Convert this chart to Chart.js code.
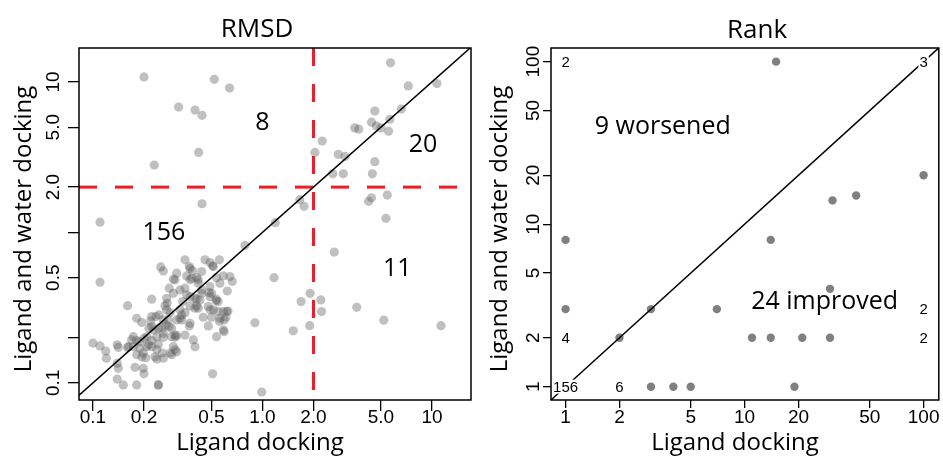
<!DOCTYPE html>
<html>
<head>
<meta charset="utf-8">
<script src="https://cdn.jsdelivr.net/npm/chart.js@4/dist/chart.umd.min.js"></script>
<style>
  html, body { margin: 0; padding: 0; background: #fff; }
  #wrap { position: relative; width: 943px; height: 456px; overflow: hidden; }
  canvas { position: absolute; top: 0; }
  #rmsd { left: 0; }
  #rank { left: 480px; }
</style>
</head>
<body>
<div id="wrap">
  <canvas id="rmsd" width="480" height="456"></canvas>
  <canvas id="rank" width="463" height="456"></canvas>
</div>
<script>
// ===== DATOS: panel RMSD =====
const rmsdXTicks = [0.1, 0.2, 0.5, 1, 2, 5, 10];
const rmsdXLabels = ['0.1', '0.2', '0.5', '1.0', '2.0', '5.0', '10'];
const rmsdYTicks = [0.1, 0.2, 0.5, 1, 2, 5, 10];
const rmsdYLabels = ['0.1', '', '0.5', '', '2.0', '5.0', '10'];
const rmsdXRange = [0.0827, 17.0];
const rmsdYRange = [0.077, 16.8];
const rmsdCutoff = 2;

// RMSD con docking de ligando (x) y con ligando + agua (y)
const rmsdLigand = [
  0.20, 0.52, 0.64, 0.32, 0.40, 0.44, 0.42, 0.23,
  5.7, 7.25, 10.7, 4.6, 6.6, 5.65, 4.4, 4.7, 5.0, 5.55, 3.5, 3.7, 2.25, 2.04, 2.8, 3.07, 4.6, 2.6, 3.0, 4.45,
  5.45, 4.4, 4.23, 5.35, 2.65, 2.21, 2.23, 3.6, 5.2, 11.3, 1.66, 1.76, 1.91, 1.69, 1.90, 1.52,
  0.44, 1.19, 1.17, 0.903, 0.99, 0.508, 0.11, 0.11, 0.788,
  0.349, 0.458, 0.49, 0.557, 0.251, 0.26, 0.37, 0.387, 0.438, 0.513,
  0.312, 0.298, 0.357, 0.418, 0.382, 0.643, 0.663, 0.561, 0.62, 0.282,
  0.326, 0.298, 0.272, 0.485, 0.438, 0.357, 0.409, 0.49, 0.222, 0.532,
  0.548, 0.338, 0.374, 0.40, 0.409, 0.16, 0.266, 0.272, 0.513, 0.548,
  0.615, 0.501, 0.561, 0.609, 0.594, 0.447, 0.479, 0.334, 0.334, 0.312,
  0.374, 0.181, 0.194, 0.222, 0.235, 0.26, 0.278, 0.269, 0.222, 0.229,
  0.243, 0.37, 0.291, 0.26, 0.26, 0.238, 0.312, 0.594, 0.536, 0.173,
  0.181, 0.169, 0.162, 0.189, 0.208, 0.222, 0.222, 0.391, 0.40, 0.349,
  0.305, 0.298, 0.285, 0.312, 0.10, 0.11, 0.119, 0.12, 0.139, 0.141,
  0.16, 0.173, 0.189, 0.181, 0.198, 0.194, 0.208, 0.238, 0.232, 0.26,
  0.238, 0.139, 0.141, 0.177, 0.198, 0.20, 0.139, 0.151, 0.181, 0.243,
  0.243, 0.205, 0.257, 0.274, 0.219, 0.245, 0.214, 0.256, 0.281, 0.20,
  0.213, 0.243, 0.29, 0.40, 0.428, 0.479, 0.326, 0.349, 0.418, 0.49,
  0.588, 0.626, 0.285, 0.326, 0.557, 0.305, 0.588, 0.305, 0.291, 0.508,
  0.374, 0.305, 0.374, 0.409, 0.536, 0.588, 0.418, 0.49, 0.349, 0.438,
  0.501, 0.374, 0.536
];
const rmsdWater = [
  10.8, 10.4, 9.1, 6.8, 6.5, 6.0, 3.4, 2.8,
  13.4, 9.4, 9.75, 6.4, 6.6, 5.65, 5.4, 5.1, 4.95, 4.7, 4.95, 4.85, 4.05, 3.4, 3.3, 3.2, 2.95, 2.45, 2.45, 2.45,
  1.77, 1.7, 1.61, 1.24, 0.74, 0.356, 0.298, 0.318, 0.261, 0.24, 1.65, 1.49, 0.394, 0.347, 0.24, 0.222,
  1.55, 1.16, 0.50, 0.251, 0.087, 0.115, 1.17, 0.466, 0.82,
  0.657, 0.657, 0.63, 0.657, 0.59, 0.555, 0.593, 0.557, 0.549, 0.593,
  0.536, 0.489, 0.514, 0.484, 0.496, 0.509, 0.472, 0.46, 0.408, 0.426,
  0.415, 0.394, 0.365, 0.398, 0.394, 0.384, 0.36, 0.374, 0.36, 0.351,
  0.347, 0.347, 0.325, 0.314, 0.325, 0.326, 0.325, 0.306, 0.306, 0.298,
  0.298, 0.273, 0.269, 0.273, 0.262, 0.273, 0.239, 0.283, 0.262, 0.262,
  0.249, 0.269, 0.252, 0.276, 0.276, 0.262, 0.262, 0.243, 0.237, 0.225,
  0.231, 0.239, 0.231, 0.214, 0.201, 0.203, 0.206, 0.219, 0.203, 0.203,
  0.191, 0.193, 0.174, 0.188, 0.203, 0.174, 0.191, 0.193, 0.174, 0.208,
  0.201, 0.174, 0.158, 0.161, 0.184, 0.176, 0.163, 0.146, 0.179, 0.172,
  0.172, 0.174, 0.17, 0.154, 0.158, 0.149, 0.174, 0.167, 0.149, 0.146,
  0.144, 0.135, 0.125, 0.127, 0.125, 0.115, 0.106, 0.097, 0.097, 0.097,
  0.097, 0.147, 0.158, 0.338, 0.258, 0.283, 0.231, 0.231, 0.237, 0.198,
  0.179, 0.181, 0.203, 0.365, 0.356, 0.322, 0.306, 0.293, 0.314, 0.306,
  0.298, 0.30, 0.293, 0.269, 0.257, 0.208, 0.225, 0.166, 0.154, 0.60,
  0.575, 0.484, 0.484, 0.50, 0.50, 0.514, 0.46, 0.437, 0.426, 0.415,
  0.394, 0.374, 0.36
];
const rmsdNoteText = ['8', '20', '156', '11'];
const rmsdNoteX = [1.0, 8.85, 0.262, 6.24];
const rmsdNoteY = [5.34, 3.81, 1.0, 0.569];

// ===== DATOS: panel Rank =====
const rankTicks = [1, 2, 5, 10, 20, 50, 100];
const rankLabels = ['1', '2', '5', '10', '20', '50', '100'];
const rankXRange = [0.829, 121.6];
const rankYRange = [0.828, 121.3];

const rankLigand = [15, 31, 42, 100, 1, 14, 30, 1, 3, 7, 2, 11, 14, 21, 30, 3, 4, 5, 19];
const rankWater = [100, 14, 15, 20, 8, 8, 4, 3, 3, 3, 2, 2, 2, 2, 2, 1, 1, 1, 1];
// puntos repetidos: se muestran como conteo
const countLigand = [1, 2, 1, 100, 100, 1, 100];
const countWater = [1, 1, 2, 3, 2, 100, 100];
const countText = ['156', '6', '4', '2', '2', '2', '3'];
const rankNoteText = ['9 worsened', '24 improved'];
const rankNoteX = [3.49, 28.0];
const rankNoteY = [39.6, 3.34];

const identity = [0.01, 1000];

// ===== HELPERS =====
const TICK_FONT = { family: "'Liberation Sans', Arial, sans-serif", size: 19 };
const TEXT_FONT = '"Open Sans", "Noto Sans", sans-serif';

function ejeLog(range, ticks, labels, o) {
  return {
    type: 'logarithmic',
    min: range[0],
    max: range[1],
    afterBuildTicks: s => { s.ticks = ticks.map(v => ({ value: v })); },
    afterFit: s => {
      if (o.width) s.width = o.width;
      if (o.height) s.height = o.height;
    },
    border: { display: false },
    grid: { drawOnChartArea: false, drawTicks: true, tickLength: o.tick, color: '#000', lineWidth: 1.3 },
    ticks: {
      autoSkip: false,
      callback: v => labels[ticks.indexOf(v)],
      font: TICK_FONT,
      color: '#000',
      padding: o.pad,
      minRotation: o.rot || 0,
      maxRotation: o.rot || 0,
      crossAlign: o.rot ? 'center' : 'near'
    }
  };
}

function puntos(xs, ys) {
  return xs.map((v, i) => ({ x: v, y: ys[i] }));
}

function overlay(cfg) {
  return {
    id: 'overlay',
    afterDatasetsDraw(chart) {
      const { ctx, chartArea: a, scales } = chart;
      ctx.save();
      // conteos con fondo blanco
      ctx.font = '15px "Liberation Sans", Arial, sans-serif';
      ctx.textAlign = 'center';
      ctx.textBaseline = 'middle';
      (cfg.countText || []).forEach((t, i) => {
        const px = scales.x.getPixelForValue(cfg.countX[i]);
        const py = scales.y.getPixelForValue(cfg.countY[i]);
        const w = ctx.measureText(t).width;
        ctx.fillStyle = '#fff';
        ctx.fillRect(px - w / 2 - 1, py - 7, w + 2, 14);
        ctx.fillStyle = '#000';
        ctx.fillText(t, px, py + 1);
      });
      // caja
      ctx.strokeStyle = '#000';
      ctx.lineWidth = 1.5;
      ctx.strokeRect(a.left, a.top, a.right - a.left, a.bottom - a.top);
      // anotaciones
      ctx.font = '25px ' + TEXT_FONT;
      ctx.fillStyle = '#000';
      cfg.noteText.forEach((t, i) => {
        ctx.fillText(t, scales.x.getPixelForValue(cfg.noteX[i]), scales.y.getPixelForValue(cfg.noteY[i]));
      });
      ctx.restore();
    },
    afterDraw(chart) {
      const ctx = chart.ctx;
      ctx.save();
      ctx.fillStyle = '#000';
      ctx.textAlign = 'center';
      ctx.textBaseline = 'alphabetic';
      ctx.font = '26px ' + TEXT_FONT;
      ctx.fillText(cfg.title, cfg.titlePos[0], cfg.titlePos[1]);
      ctx.font = '24px ' + TEXT_FONT;
      ctx.fillText('Ligand docking', cfg.xTitlePos[0], cfg.xTitlePos[1]);
      ctx.translate(cfg.yTitlePos[0], cfg.yTitlePos[1]);
      ctx.rotate(-Math.PI / 2);
      ctx.fillText('Ligand and water docking', 0, 0);
      ctx.restore();
    }
  };
}

function linea(data, color, width, dash) {
  return {
    data: data,
    showLine: true,
    borderColor: color,
    borderWidth: width,
    borderDash: dash || [],
    pointRadius: 0,
    order: 0
  };
}

const baseOptions = {
  responsive: false,
  animation: false,
  devicePixelRatio: 1,
  events: [],
  plugins: { legend: { display: false }, tooltip: { enabled: false } }
};

// ===== GRÁFICO RMSD =====
new Chart(document.getElementById('rmsd'), {
  type: 'scatter',
  data: {
    datasets: [
      linea(puntos(identity, identity), '#000', 1.5),
      linea([{ x: rmsdCutoff, y: rmsdYRange[1] }, { x: rmsdCutoff, y: rmsdYRange[0] }], '#e8202a', 3, [18, 18]),
      linea([{ x: rmsdXRange[0], y: rmsdCutoff }, { x: rmsdXRange[1], y: rmsdCutoff }], '#e8202a', 3, [18, 18]),
      {
        data: puntos(rmsdLigand, rmsdWater),
        pointRadius: 4.6,
        pointBackgroundColor: 'rgba(90, 90, 90, 0.38)',
        pointBorderWidth: 0,
        order: 1
      }
    ]
  },
  options: {
    ...baseOptions,
    layout: { padding: { left: 0, right: 9, top: 48, bottom: 0 } },
    scales: {
      x: ejeLog(rmsdXRange, rmsdXTicks, rmsdXLabels, { height: 56, tick: 11, pad: -5 }),
      y: ejeLog(rmsdYRange, rmsdYTicks, rmsdYLabels, { width: 79, tick: 11, pad: 0.8, rot: 90 })
    }
  },
  plugins: [overlay({
    title: 'RMSD', titlePos: [257, 37],
    xTitlePos: [260, 450], yTitlePos: [31, 229],
    noteText: rmsdNoteText, noteX: rmsdNoteX, noteY: rmsdNoteY
  })]
});

// ===== GRÁFICO RANK =====
new Chart(document.getElementById('rank'), {
  type: 'scatter',
  data: {
    datasets: [
      linea(puntos(identity, identity), '#000', 1.5),
      {
        data: puntos(rankLigand, rankWater),
        pointRadius: 4.2,
        pointBackgroundColor: 'rgb(128, 128, 128)',
        pointBorderWidth: 0,
        order: 1
      }
    ]
  },
  options: {
    ...baseOptions,
    layout: { padding: { left: 0, right: 1, top: 48, bottom: 0 } },
    scales: {
      x: ejeLog(rankXRange, rankTicks, rankLabels, { height: 56, tick: 8, pad: -2 }),
      y: ejeLog(rankYRange, rankTicks, rankLabels, { width: 71, tick: 8, pad: -6.8, rot: 90 })
    }
  },
  plugins: [overlay({
    title: 'Rank', titlePos: [277, 38],
    xTitlePos: [255, 450], yTitlePos: [27, 229],
    noteText: rankNoteText, noteX: rankNoteX, noteY: rankNoteY,
    countText: countText, countX: countLigand, countY: countWater
  })]
});
</script>
</body>
</html>
